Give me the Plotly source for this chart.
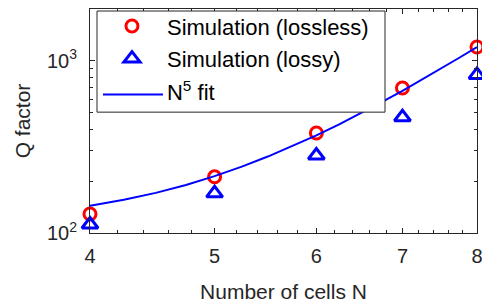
import math
import plotly.graph_objects as go

# Data
N = [4, 5, 6, 7, 8]
q_lossless = [129, 212, 381, 695, 1203]
q_lossy = [112, 170, 282, 470, 828]

N_fit = [4, 4.25, 4.5, 4.75, 5, 5.25, 5.5, 5.75, 6, 6.25, 6.5, 6.75, 7, 7.25, 7.5, 7.75, 8]
q_fit = [144, 156, 171, 190, 214, 243, 278, 320, 369, 428, 497, 577, 670, 778, 901, 1042, 1203]

x_ticks = [4, 5, 6, 7, 8]
x_minor = [4.2, 4.4, 4.6, 4.8, 5.2, 5.4, 5.6, 5.8, 6.2, 6.4, 6.6, 6.8, 7.2, 7.4, 7.6, 7.8]
y_ticks = [100, 1000]
y_ticktext = ["10<sup>2</sup>", "10<sup>3</sup>"]
y_minor = [200, 300, 400, 500, 600, 700, 800, 900, 2000]

FONT = "Liberation Sans, Arial, sans-serif"
AX = "#262626"
BLUE = "#0000FF"
RED = "#FF0000"

fig = go.Figure()
fig.add_trace(go.Scatter(
    x=N, y=q_lossless, mode="markers", name="Simulation (lossless)",
    marker=dict(symbol="circle-open", size=12, color=RED, line=dict(width=3, color=RED)),
    legendgroup="a", cliponaxis=False))
fig.add_trace(go.Scatter(
    x=N, y=q_lossy, mode="markers", name="Simulation (lossy)",
    marker=dict(symbol="triangle-up-open", size=14, color=BLUE, line=dict(width=3, color=BLUE)),
    legendgroup="b", cliponaxis=False))
fig.add_trace(go.Scatter(
    x=N_fit, y=q_fit, mode="lines", name="N<sup>5</sup> fit",
    line=dict(color=BLUE, width=2), showlegend=False))
# legend entry for the fit (its sample line is drawn as a longer shape below)
fig.add_trace(go.Scatter(
    x=[None], y=[None], mode="lines", name="N<sup>5</sup> fit",
    line=dict(color="rgba(0,0,0,0)", width=2), legendgroup="c", hoverinfo="skip"))

# legend box (white, bordered) and longer legend line sample, drawn under the legend
fig.add_shape(type="rect", xref="paper", yref="paper",
              x0=0.0181, x1=0.7623, y0=0.5395, y1=0.991,
              fillcolor="white", line=dict(color=AX, width=1), layer="above")
fig.add_shape(type="line", xref="paper", yref="paper",
              x0=0.0336, x1=0.1886, y0=0.6184, y1=0.6184,
              line=dict(color=BLUE, width=2), layer="above")

fig.update_layout(
    width=482, height=303,
    margin=dict(l=90, r=5, t=5, b=70),
    paper_bgcolor="white", plot_bgcolor="white",
    font=dict(family=FONT, size=20, color=AX),
    showlegend=True,
    legend=dict(x=0.018, y=1.017, xanchor="left", yanchor="top",
                bgcolor="rgba(0,0,0,0)", borderwidth=0,
                font=dict(family=FONT, size=22, color="black"),
                itemwidth=60, tracegroupgap=1),
)
fig.update_xaxes(
    type="log", range=[math.log10(4) - 1e-9, math.log10(8) + 1e-9], automargin=False,
    tickmode="array", tickvals=x_ticks, ticktext=[str(v) for v in x_ticks],
    ticks="inside", ticklen=5, tickcolor=AX, tickwidth=1, ticklabelstandoff=5,
    ticklabeloverflow="allow",
    minor=dict(tickmode="array", tickvals=x_minor, ticks="inside", ticklen=3, tickcolor=AX),
    showline=True, linecolor=AX, linewidth=1, mirror="allticks",
    showgrid=False, zeroline=False,
    title=dict(text="Number of cells N", font=dict(size=21, color=AX), standoff=18),
    tickfont=dict(size=20, color=AX),
)
fig.update_yaxes(
    type="log", range=[2, 3.301], automargin=False,
    tickmode="array", tickvals=y_ticks, ticktext=y_ticktext,
    ticks="inside", ticklen=5, tickcolor=AX, tickwidth=1, ticklabelstandoff=8,
    ticklabeloverflow="allow",
    minor=dict(tickmode="array", tickvals=y_minor, ticks="inside", ticklen=3, tickcolor=AX),
    showline=True, linecolor=AX, linewidth=1, mirror="allticks",
    showgrid=False, zeroline=False,
    title=dict(text="Q factor", font=dict(size=21, color=AX), standoff=10),
    tickfont=dict(size=20, color=AX),
)

fig.write_html("out.html", config={"displayModeBar": False},
               post_script="document.body.style.margin='0';")
